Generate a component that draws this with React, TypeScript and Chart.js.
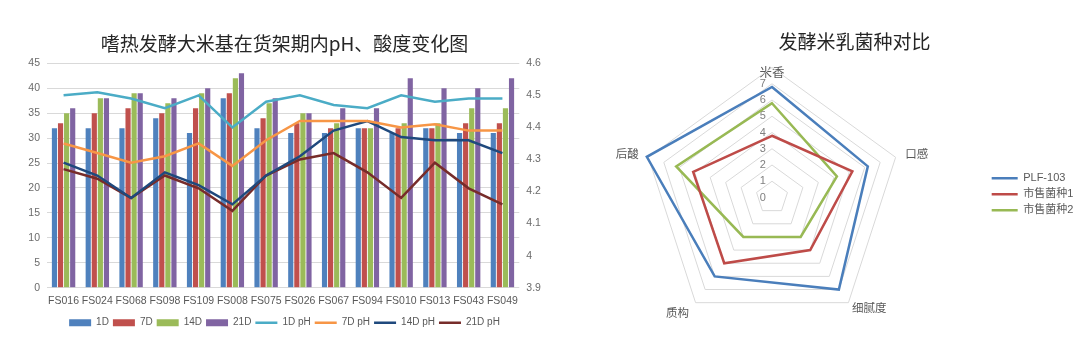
import React, { useEffect, useRef } from 'react';
import { Chart, registerables } from 'chart.js';

Chart.register(...registerables);

// ---------- data: left combo chart ----------
const categories = ['FS016', 'FS024', 'FS068', 'FS098', 'FS109', 'FS008', 'FS075', 'FS026', 'FS067', 'FS094', 'FS010', 'FS013', 'FS043', 'FS049'];
const acid1D = [32, 32, 32, 34, 31, 38, 32, 31, 31, 32, 31, 32, 31, 31];
const acid7D = [33, 35, 36, 35, 36, 39, 34, 33, 32, 32, 32, 32, 33, 33];
const acid14D = [35, 38, 39, 37, 39, 42, 37, 35, 33, 32, 33, 33, 36, 36];
const acid21D = [36, 38, 39, 38, 40, 43, 38, 35, 36, 36, 42, 40, 40, 42];
const ph1D = [4.50, 4.51, 4.49, 4.46, 4.50, 4.40, 4.48, 4.50, 4.47, 4.46, 4.50, 4.48, 4.49, 4.49];
const ph7D = [4.35, 4.32, 4.29, 4.31, 4.35, 4.28, 4.36, 4.42, 4.42, 4.42, 4.40, 4.41, 4.39, 4.39];
const ph14D = [4.29, 4.25, 4.18, 4.26, 4.22, 4.16, 4.25, 4.31, 4.39, 4.42, 4.37, 4.36, 4.36, 4.32];
const ph21D = [4.27, 4.24, 4.18, 4.25, 4.21, 4.14, 4.25, 4.30, 4.32, 4.26, 4.18, 4.29, 4.21, 4.16];
const barLabels = ['1D', '7D', '14D', '21D'];
const lineLabels = ['1D pH', '7D pH', '14D pH', '21D pH'];
const leftTitle = '嗜热发酵大米基在货架期内pH、酸度变化图';

// ---------- data: radar chart ----------
const radarAxes = ['米香', '口感', '细腻度', '质构', '后酸'];
const seriesNames = ['PLF-103', '市售菌种1', '市售菌种2'];
const plf103 = [6.8, 6.2, 7.0, 6.0, 8.1];
const strain1 = [3.8, 5.2, 4.0, 5.0, 5.1];
const strain2 = [5.8, 4.2, 3.0, 3.0, 6.2];
const radarTickLabels = ['0', '1', '2', '3', '4', '5', '6', '7'];
const radarTitle = '发酵米乳菌种对比';

// ---------- styling ----------
const LATIN = "'Liberation Sans', Arial, 'Noto Sans CJK SC', sans-serif";
const CJK = "'Noto Sans CJK SC', 'Liberation Sans', sans-serif";
const barColors = ['#4F81BD', '#C0504D', '#9BBB59', '#8064A2'];
const lineColors = ['#4BACC6', '#F79646', '#1F497D', '#772C2A'];
const radarColors = ['#4A7EBB', '#BE4B48', '#98B954'];
const TICK = '#6B6B6B';
const TEXT = '#595959';

const LEFT_W = 569;
const H = 351;
const RADAR_LEFT = 600;
const RADAR_W = 480;

function ComboChart() {
  const ref = useRef<HTMLCanvasElement>(null);
  useEffect(() => {
    const barData = [acid1D, acid7D, acid14D, acid21D];
    const lineData = [ph1D, ph7D, ph14D, ph21D];
    const datasets: any[] = [];
    barData.forEach((d, i) => {
      datasets.push({
        type: 'bar',
        label: barLabels[i],
        data: d,
        backgroundColor: barColors[i],
        borderWidth: 0,
        pointStyle: 'rect',
        yAxisID: 'y',
        order: 2,
        categoryPercentage: 0.72,
        barPercentage: 0.85,
      });
    });
    lineData.forEach((d, i) => {
      datasets.push({
        type: 'line',
        label: lineLabels[i],
        data: d,
        borderColor: lineColors[i],
        backgroundColor: lineColors[i],
        pointBorderColor: lineColors[i],
        pointBorderWidth: 2.5,
        borderWidth: 2.5,
        pointRadius: 0,
        pointHoverRadius: 0,
        pointStyle: 'line',
        tension: 0,
        fill: false,
        yAxisID: 'y1',
        order: 1,
      });
    });
    const chart = new Chart(ref.current!, {
      type: 'bar',
      data: { labels: categories, datasets },
      options: {
        responsive: false,
        animation: false,
        devicePixelRatio: 1,
        layout: { padding: { left: 0, right: 0, top: 0, bottom: 13.3 } },
        plugins: {
          title: {
            display: true,
            text: leftTitle,
            font: { family: CJK, size: 19, weight: 'normal' },
            color: '#262626',
            padding: { top: 31.9, bottom: 8.6 },
          },
          legend: {
            position: 'bottom',
            labels: {
              usePointStyle: true,
              pointStyleWidth: 22,
              boxHeight: 7,
              padding: 4,
              font: { family: LATIN, size: 10 },
              color: TEXT,
              sort: (a: any, b: any) => a.datasetIndex - b.datasetIndex,
            },
          },
          tooltip: { enabled: false },
        },
        scales: {
          x: {
            grid: { display: false, drawTicks: false },
            border: { display: false },
            ticks: { font: { family: LATIN, size: 10.5 }, color: TEXT, padding: 7, maxRotation: 0, autoSkip: false },
            afterFit: (s: any) => { s.height = 26; },
          },
          y: {
            position: 'left',
            min: 0,
            max: 45,
            ticks: { stepSize: 5, padding: 6.7, font: { family: LATIN, size: 10.5 }, color: TICK },
            grid: { color: '#D9D9D9', lineWidth: 1, drawTicks: false },
            border: { display: false },
            afterFit: (s: any) => { s.width = 46.7; },
          },
          y1: {
            position: 'right',
            min: 3.9,
            max: 4.6,
            ticks: {
              stepSize: 0.1,
              padding: 7,
              font: { family: LATIN, size: 10.5 },
              color: TICK,
              callback: (v: any) => String(Math.round(Number(v) * 10) / 10),
            },
            grid: { display: false, drawTicks: false },
            border: { display: false },
            afterFit: (s: any) => { s.width = LEFT_W - 519.3; },
          },
        },
      } as any,
    });
    return () => chart.destroy();
  }, []);
  return (
    <canvas
      ref={ref}
      width={LEFT_W}
      height={H}
      style={{ position: 'absolute', left: 0, top: 0, width: LEFT_W, height: H }}
    />
  );
}

function RadarChart() {
  const ref = useRef<HTMLCanvasElement>(null);
  useEffect(() => {
    const CX = 772 - RADAR_LEFT;
    const CY = 197.5;
    const R = 130;
    const labelPad = [-13, 2.5, -1.5, 3.5, 2.5];
    const series = [plf103, strain1, strain2];
    const chart = new Chart(ref.current!, {
      type: 'radar',
      data: {
        labels: radarAxes,
        datasets: series.map((d, i) => ({
          label: seriesNames[i],
          data: d,
          borderColor: radarColors[i],
          backgroundColor: 'rgba(0,0,0,0)',
          pointBorderColor: radarColors[i],
          pointBorderWidth: 2.5,
          borderWidth: 2.5,
          pointRadius: 0,
          pointHoverRadius: 0,
          pointStyle: 'line',
          fill: false,
          tension: 0,
        })),
      },
      options: {
        responsive: false,
        animation: false,
        devicePixelRatio: 1,
        layout: { padding: { left: 25.7, right: -3.3, top: 0, bottom: 25.8 } },
        plugins: {
          title: {
            display: true,
            text: radarTitle,
            font: { family: CJK, size: 19, weight: 'normal' },
            color: '#262626',
            padding: { top: 30.6, bottom: 10 },
          },
          legend: {
            position: 'right',
            align: 'center',
            fullSize: false,
            labels: {
              usePointStyle: true,
              pointStyleWidth: 26,
              padding: 5,
              font: { family: LATIN, size: 11 },
              color: TEXT,
            },
          },
          tooltip: { enabled: false },
        },
        scales: {
          r: {
            min: -0.000001,
            max: 8,
            angleLines: { display: false },
            grid: { color: '#D9D9D9', lineWidth: 1 },
            ticks: {
              stepSize: 1,
              autoSkip: false,
              maxTicksLimit: 20,
              showLabelBackdrop: false,
              font: { family: LATIN, size: 11 },
              color: '#7F7F7F',
              callback: (v: any, index: number) => {
                const n = Math.round(Number(v));
                if (index !== 0 && n === 0) return '';
                if (n >= radarTickLabels.length || n < 0) return '';
                return radarTickLabels[n] + '      ';
              },
            },
            pointLabels: {
              color: TEXT,
              font: (ctx: any) => ({ family: CJK, size: ctx.index === 0 ? 12.5 : 11.5, lineHeight: 0.1 }),
              padding: (ctx: any) => labelPad[ctx.index],
            },
            afterFit: (scale: any) => {
              scale.xCenter = CX;
              scale.yCenter = CY;
              scale.drawingArea = R;
              const saved = [scale.left, scale.right, scale.top, scale.bottom];
              scale.left = -10000;
              scale.right = 10000;
              scale.top = -10000;
              scale.bottom = 10000;
              scale.fit();
              scale.left = saved[0];
              scale.right = saved[1];
              scale.top = saved[2];
              scale.bottom = saved[3];
            },
          },
        },
      } as any,
    });
    return () => chart.destroy();
  }, []);
  return (
    <canvas
      ref={ref}
      width={RADAR_W}
      height={H}
      style={{ position: 'absolute', left: RADAR_LEFT, top: 0, width: RADAR_W, height: H }}
    />
  );
}

export default function App() {
  return (
    <div style={{ position: 'fixed', left: 0, top: 0, width: 1080, height: H, background: '#ffffff', overflow: 'hidden' }}>
      <ComboChart />
      <RadarChart />
    </div>
  );
}
